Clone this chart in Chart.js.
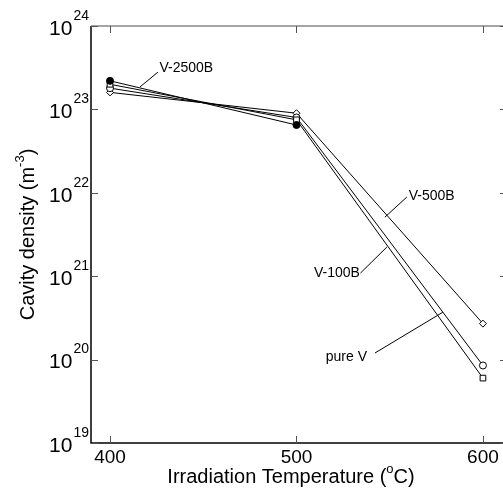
<!DOCTYPE html>
<html>
<head>
<meta charset="utf-8">
<script src="https://cdn.jsdelivr.net/npm/chart.js@4/dist/chart.umd.min.js"></script>
<style>
  html, body { margin: 0; padding: 0; background: #fff; overflow: hidden; }
  #wrap { width: 512px; height: 494px; }
</style>
</head>
<body>
<div id="wrap"><canvas id="chart" width="512" height="494"></canvas></div>
<script>
// values
const temps = [400, 500, 600];
const v2500B = [2.2e23, 6.5e22, null];
const pureV = [2.0e23, 7.5e22, 6.0e19];
const v100B = [1.8e23, 8.0e22, 8.5e19];
const v500B = [1.6e23, 9.0e22, 2.7e20];

const xTicks = [400, 500, 600];
const yExps = [19, 20, 21, 22, 23, 24];

// labels with leader lines, in data units
const notes = [
  { text: 'V-2500B', align: 'left', at: [426.5, 3.1e23], from: [425.7, 2.8e23], to: [416.1, 1.86e23] },
  { text: 'V-500B', align: 'left', at: [560.2, 9.2e21], from: [559.2, 8.9e21], to: [547.4, 5.1e21] },
  { text: 'V-100B', align: 'right', at: [534.0, 1.09e21], from: [534.3, 1.09e21], to: [548.5, 2.24e21] },
  { text: 'pure V', align: 'right', at: [537.8, 1.07e20], from: [542.1, 1.2e20], to: [578.5, 3.7e20] }
];

function pts(vals) {
  return temps.map((t, i) => ({ x: t, y: vals[i] })).filter(p => p.y !== null);
}

function series(label, vals, style, fill) {
  return {
    label: label,
    data: pts(vals),
    borderColor: '#000',
    borderWidth: 1,
    pointStyle: style,
    pointRadius: style === 'rect' ? 4 : 3.5,
    pointBackgroundColor: fill,
    pointBorderColor: '#000',
    pointBorderWidth: 1,
    fill: false,
    tension: 0
  };
}

const FONT = '"Liberation Sans", Arial, sans-serif';

const framePlugin = {
  id: 'frame',
  afterDraw(chart) {
    const c = chart.ctx, a = chart.chartArea;
    const xs = chart.scales.x, ys = chart.scales.y;
    c.save();
    // box
    c.lineWidth = 1.5;
    c.strokeStyle = '#888';
    c.beginPath();
    c.moveTo(a.left, a.top); c.lineTo(a.right, a.top); c.lineTo(a.right, a.bottom);
    c.stroke();
    c.strokeStyle = '#000';
    c.beginPath();
    c.moveTo(a.left, a.top); c.lineTo(a.left, a.bottom); c.lineTo(a.right, a.bottom);
    c.stroke();
    // inward ticks
    c.lineWidth = 1;
    c.strokeStyle = '#555';
    c.beginPath();
    xTicks.forEach(t => {
      const px = Math.round(xs.getPixelForValue(t)) + 0.5;
      c.moveTo(px, a.bottom); c.lineTo(px, a.bottom - 7);
      c.moveTo(px, a.top); c.lineTo(px, a.top + 7);
    });
    yExps.forEach(e => {
      const py = Math.round(ys.getPixelForValue(Math.pow(10, e))) + 0.5;
      c.moveTo(a.left, py); c.lineTo(a.left + 7, py);
      c.moveTo(a.right, py); c.lineTo(a.right - 7, py);
    });
    c.stroke();

    // tick labels
    c.fillStyle = '#000';
    c.textBaseline = 'middle';
    c.textAlign = 'center';
    c.font = '19px ' + FONT;
    xTicks.forEach(t => c.fillText(String(t), xs.getPixelForValue(t), a.bottom + 15));
    yExps.forEach(e => {
      const py = ys.getPixelForValue(Math.pow(10, e));
      c.textAlign = 'right';
      c.font = '14px ' + FONT;
      c.fillText(String(e), a.left - 2, py - 10);
      const ew = c.measureText(String(e)).width;
      c.font = '21px ' + FONT;
      c.fillText('10', a.left - 3 - ew, py + 3);
    });

    // axis titles
    c.textAlign = 'left';
    const t1 = 'Irradiation Temperature (', t2 = 'C)';
    c.font = '13px ' + FONT;
    const wo = c.measureText('o').width;
    c.font = '20px ' + FONT;
    const w1 = c.measureText(t1).width, w2 = c.measureText(t2).width;
    let x0 = 291 - (w1 + wo + w2) / 2;
    const yb = a.bottom + 34;
    c.fillText(t1, x0, yb);
    c.font = '13px ' + FONT;
    c.fillText('o', x0 + w1, yb - 8);
    c.font = '20px ' + FONT;
    c.fillText(t2, x0 + w1 + wo, yb);

    c.translate(28, (a.top + a.bottom) / 2);
    c.rotate(-Math.PI / 2);
    const s1 = 'Cavity density (m', s3 = ')';
    c.font = '13px ' + FONT;
    const we = c.measureText('-3').width;
    c.font = '20px ' + FONT;
    const ws1 = c.measureText(s1).width, ws3 = c.measureText(s3).width;
    x0 = -(ws1 + we + ws3) / 2;
    c.fillText(s1, x0, 0);
    c.font = '13px ' + FONT;
    c.fillText('-3', x0 + ws1, -8);
    c.font = '20px ' + FONT;
    c.fillText(s3, x0 + ws1 + we, 0);
    c.restore();

    // annotations
    c.save();
    c.strokeStyle = '#000';
    c.lineWidth = 1;
    c.fillStyle = '#000';
    c.font = '14px ' + FONT;
    c.textBaseline = 'middle';
    notes.forEach(n => {
      c.beginPath();
      c.moveTo(xs.getPixelForValue(n.from[0]), ys.getPixelForValue(n.from[1]));
      c.lineTo(xs.getPixelForValue(n.to[0]), ys.getPixelForValue(n.to[1]));
      c.stroke();
      c.textAlign = n.align;
      c.fillText(n.text, xs.getPixelForValue(n.at[0]), ys.getPixelForValue(n.at[1]));
    });
    c.restore();
  }
};

new Chart(document.getElementById('chart').getContext('2d'), {
  type: 'line',
  data: {
    datasets: [
      series('V-2500B', v2500B, 'circle', '#000'),
      series('pure V', pureV, 'rect', '#fff'),
      series('V-100B', v100B, 'circle', '#fff'),
      series('V-500B', v500B, 'rectRot', '#fff')
    ]
  },
  options: {
    responsive: false,
    animation: false,
    layout: { padding: { top: 26, right: 0, left: 0, bottom: 0 } },
    plugins: { legend: { display: false }, tooltip: { enabled: false } },
    scales: {
      x: {
        type: 'linear',
        min: 389.8,
        max: 612.9,
        grid: { display: false, drawTicks: false },
        border: { display: false },
        ticks: { display: false },
        afterFit(s) { s.height = 51; }
      },
      y: {
        type: 'logarithmic',
        min: 1e19,
        max: 1e24,
        grid: { display: false, drawTicks: false },
        border: { display: false },
        ticks: { display: false },
        afterFit(s) { s.width = 91; }
      }
    }
  },
  plugins: [framePlugin]
});
</script>
</body>
</html>
